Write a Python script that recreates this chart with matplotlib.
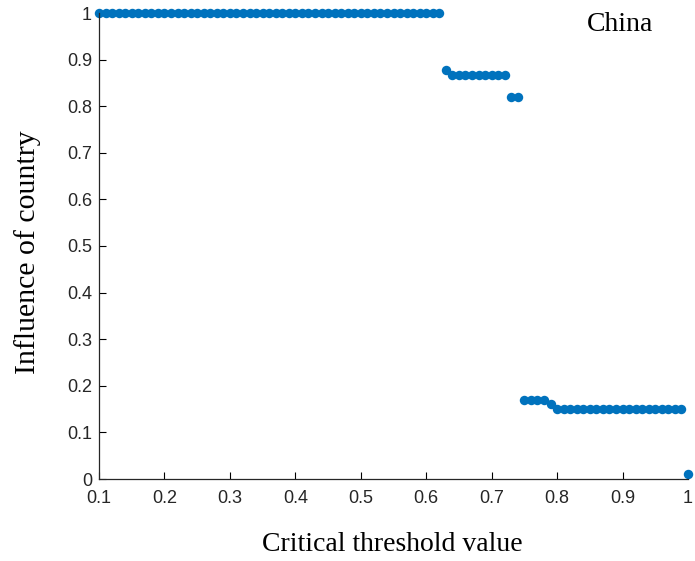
import matplotlib
matplotlib.use("Agg")
import matplotlib.pyplot as plt
import numpy as np

# ─── Data ────────────────────────────────────────────────────────────────
thresholds = np.round(np.arange(0.10, 1.0001, 0.01), 2)
influence = (
    [1.0] * 53            # 0.10 - 0.62
    + [0.878]             # 0.63
    + [0.868] * 9         # 0.64 - 0.72
    + [0.82] * 2          # 0.73 - 0.74
    + [0.17] * 4          # 0.75 - 0.78
    + [0.16]              # 0.79
    + [0.15] * 20         # 0.80 - 0.99
    + [0.01]              # 1.00
)
x_ticks = [0.1, 0.2, 0.3, 0.4, 0.5, 0.6, 0.7, 0.8, 0.9, 1]
x_ticklabels = ["0.1", "0.2", "0.3", "0.4", "0.5", "0.6", "0.7", "0.8", "0.9", "1"]
y_ticks = [0, 0.1, 0.2, 0.3, 0.4, 0.5, 0.6, 0.7, 0.8, 0.9, 1]
y_ticklabels = ["0", "0.1", "0.2", "0.3", "0.4", "0.5", "0.6", "0.7", "0.8", "0.9", "1"]

SERIF = ["Liberation Serif", "DejaVu Serif"]
SANS = ["Liberation Sans", "DejaVu Sans"]
W, H = 695, 561

fig = plt.figure(figsize=(W / 100, H / 100), dpi=100)
ax = fig.add_axes([99 / W, 1 - 479 / H, 589 / W, 466 / H])

ax.plot(thresholds, influence, "o", color="#0072BD", markersize=6.8,
        markeredgewidth=0, clip_on=False)

ax.set_xlim(0.1, 1)
ax.set_ylim(0, 1)
ax.set_xticks(x_ticks)
ax.set_xticklabels(x_ticklabels, family=SANS, fontsize=13, color="#262626")
ax.set_yticks(y_ticks)
ax.set_yticklabels(y_ticklabels, family=SANS, fontsize=13, color="#262626")
ax.tick_params(direction="in", length=5, width=0.8)
ax.tick_params(axis="x", pad=8)
ax.tick_params(axis="y", pad=5)

for side in ("top", "right"):
    ax.spines[side].set_visible(False)
for side in ("left", "bottom"):
    ax.spines[side].set_linewidth(0.9)
    ax.spines[side].set_color("#262626")

# axis titles placed in figure pixels to match the reference layout
fig.text(392.5 / W, 1 - 551 / H, "Critical threshold value", family=SERIF,
         fontsize=20, ha="center", va="baseline")
fig.text(27.5 / W, 1 - 252 / H, "Influence of country", family=SERIF,
         fontsize=21.5, ha="center", va="center", rotation=90)
fig.text(653 / W, 1 - 31 / H, "China", family=SERIF, fontsize=20,
         ha="right", va="baseline")

fig.savefig("out.png", dpi=100)
